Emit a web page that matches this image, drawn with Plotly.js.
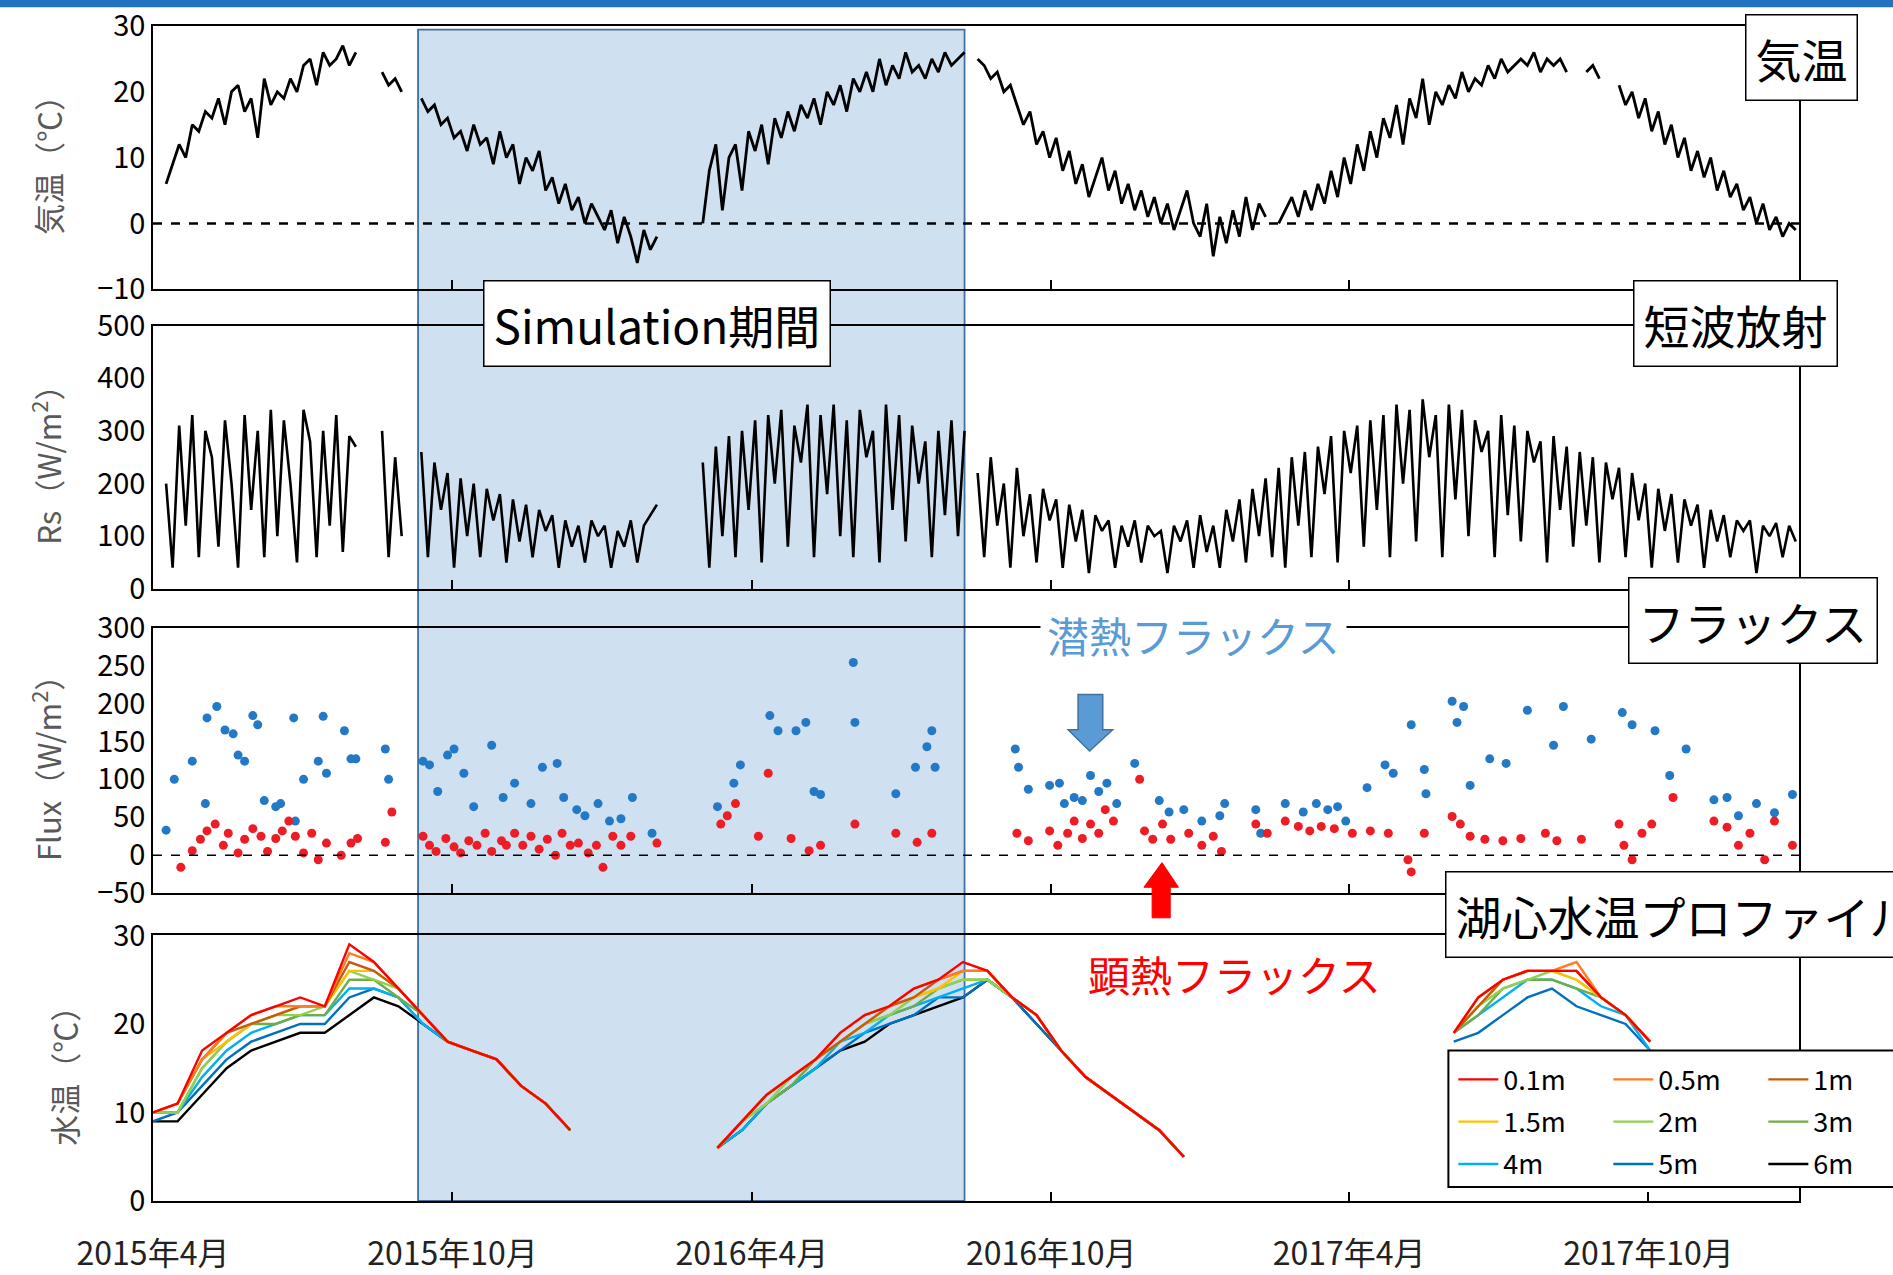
<!DOCTYPE html>
<html>
<head>
<meta charset="utf-8">
<script src="https://cdn.plot.ly/plotly-3.0.1.min.js"></script>
<style>body{margin:0;background:#fff}#chart{width:1893px;height:1275px}</style>
</head>
<body>
<div id="chart"></div>
<script>
// day 0 = 2015-04-01
const startDate = Date.UTC(2015, 3, 1);
const tickVals = ['2015-04-01', '2015-10-01', '2016-04-01', '2016-10-01', '2017-04-01', '2017-10-01'];
const tickText = ['2015年4月', '2015年10月', '2016年4月', '2016年10月', '2017年4月', '2017年10月'];

// air temperature and Rs, one value every 4 days
const stepDays = 4;
const airTemp = [null, null,
    6, 9, 12, 10, 15, 14, 17, 16, 19, 15, 20, 21, 17, 19, 13, 22, 18, 20, 19, 22, 20, 24, 25, 21, 26, 24, 25, 27, 24, 26,
    null, null, null, 23, 21, 22, 20, null, null,
    19, 17, 18, 15, 16, 13, 14, 11, 15, 12, 13, 9, 14, 10, 12, 6, 10, 8, 11, 5, 7, 3, 6, 2, 4, 0, 3, 1, -1, 2, -3, 1, -2, -6, -1, -4, -2,
    null, null, null, null, null, null,
    0, 8, 12, 2, 10, 12, 5, 14, 11, 15, 9, 16, 13, 17, 14, 18, 16, 19, 15, 20, 18, 21, 17, 22, 20, 23, 20, 25, 21, 24, 22, 26, 23, 24, 22, 25, 23, 26, 24, 25, 26,
    null,
    25, 24, 22, 23, 20, 21, 18, 15, 17, 12, 14, 10, 13, 8, 11, 6, 9, 4, 7, 10, 5, 8, 3, 6, 2, 5, 1, 4, 0, 3, -1, 2, 5, 0, -2, 3, -5, 1, -3, 2, -2, 4, -1, 3, 1,
    null,
    0, 2, 4, 1, 5, 2, 6, 3, 8, 4, 10, 6, 12, 8, 14, 10, 16, 13, 18, 12, 19, 16, 22, 15, 20, 18, 21, 19, 23, 20, 22, 21, 24, 22, 25, 23, 24, 25, 24, 26, 23, 25, 24, 25, 23,
    null, null, 23, 24, 22, null, null,
    21, 18, 20, 16, 19, 14, 17, 12, 15, 10, 13, 8, 11, 7, 10, 5, 8, 4, 6, 2, 4, 0, 3, -1, 1, -2, 0, -1];
const shortwave = [null, null,
    200, 40, 310, 120, 330, 60, 300, 250, 80, 320, 200, 40, 330, 150, 300, 60, 340, 100, 320, 200, 50, 340, 280, 60, 300, 120, 330, 70, 290, 270,
    null, null, null, 300, 60, 250, 100, null, null,
    260, 60, 240, 150, 220, 40, 210, 100, 200, 60, 190, 130, 180, 50, 170, 90, 160, 60, 150, 110, 140, 40, 130, 80, 120, 50, 130, 100, 120, 40, 110, 80, 130, 50, 120, 140, 160,
    null, null, null, null, null, null,
    240, 40, 270, 100, 290, 60, 300, 150, 320, 50, 330, 200, 340, 80, 310, 240, 350, 60, 330, 180, 350, 100, 320, 60, 340, 250, 300, 50, 350, 150, 330, 90, 310, 200, 280, 60, 300, 140, 320, 100, 300,
    null,
    220, 60, 250, 120, 200, 40, 230, 100, 180, 50, 190, 130, 170, 40, 160, 90, 150, 30, 140, 110, 130, 40, 120, 80, 130, 50, 120, 100, 110, 30, 120, 90, 130, 40, 140, 70,
    120, 40, 150, 90, 170, 50, 190, 100, 210, 60,
    230, 40, 250, 120, 260, 60, 270, 180, 290, 50, 300, 220, 310, 80, 320, 150, 330, 60, 350, 200, 340, 90, 360, 250, 330, 60, 350, 170, 340, 100, 320, 260, 300, 60, 330, 140, 310, 90, 300, 240, 280, 50, 290, 150, 270, 80,
    260, 120, 250, 50, 240, 170, 230, 60, 220, 130, 200, 40, 190, 110, 180, 50, 170, 120, 160, 40, 150, 90, 140, 60, 130, 110, 130, 30, 120, 100, 125, 60, 120, 90];

// latent heat flux (day, W/m2)
const latentDay = [8, 13, 24, 33, 39, 44, 49, 52, 56, 32, 61, 64, 68, 75, 78, 86, 92, 87, 104, 101, 106, 117, 121, 124, 142, 144,
    165, 169, 174, 180, 184, 190, 196, 207, 214, 221, 231, 238, 247, 251, 259, 264, 272, 279, 286, 293, 305,
    345, 355, 359, 377, 382, 393, 399, 404, 408, 428, 429, 454, 466, 473, 476, 478,
    527, 529, 535, 548, 554, 557, 563, 568, 573, 578, 583, 589, 600, 615, 621, 630, 641, 652, 655, 674, 677, 692, 703, 711, 718, 724, 729,
    742, 753, 758, 769, 777, 778, 794, 797, 801, 805, 817, 827, 840, 856, 862, 879, 898, 904, 918, 927, 937, 954, 962, 969, 980, 991, 1002];
const latentFlux = [33, 100, 124, 181, 196, 165, 160, 132, 124, 68, 184, 172, 72, 64, 68, 181, 100, 45, 183, 124, 108, 164, 127, 127, 140, 100,
    124, 119, 84, 132, 140, 108, 64, 145, 76, 95, 68, 116, 121, 76, 60, 52, 68, 45, 48, 76, 29,
    64, 95, 119, 184, 164, 164, 175, 84, 80, 254, 175, 81, 116, 143, 164, 116,
    140, 116, 87, 92, 95, 68, 76, 72, 105, 84, 95, 68, 121, 72, 57, 60, 45, 52, 68, 60, 29, 68, 57, 68, 60, 64, 45,
    89, 119, 108, 172, 113, 81, 203, 175, 196, 92, 127, 121, 191, 145, 196, 153, 188, 172, 164, 105, 140, 73, 76, 52, 68, 56, 80];
// sensible heat flux (day, W/m2)
const sensibleDay = [17, 24, 29, 33, 38, 43, 46, 52, 56, 61, 66, 70, 75, 79, 83, 87, 92, 97, 101, 106, 115, 121, 125, 142, 146,
    165, 169, 173, 179, 184, 188, 193, 198, 203, 207, 213, 216, 221, 226, 231, 236, 241, 246, 250, 255, 260, 266, 271, 275, 281, 286, 292, 308,
    347, 351, 356, 376, 370, 390, 401, 408, 429, 454, 467, 476,
    528, 535, 548, 553, 559, 563, 568, 573, 578, 582, 587, 603, 606, 611, 617, 622, 633, 641, 648, 653, 674, 681, 692, 700, 707, 714, 722,
    733, 744, 755, 767, 769, 777, 794, 799, 805, 814, 825, 836, 851, 858, 873, 896, 899, 904, 910, 916, 929, 954, 962, 969, 976, 985, 991, 1002];
const sensibleFlux = [-16, 6, 21, 32, 41, 13, 29, 3, 21, 35, 25, 5, 22, 32, 45, 25, 3, 29, -6, 16, 0, 16, 22, 17, 57,
    25, 13, 5, 22, 11, 3, 19, 13, 29, 5, 19, 13, 29, 13, 25, 8, 21, 0, 29, 13, 16, 3, 13, -16, 25, 13, 25, 16,
    41, 52, 68, 108, 25, 22, 6, 13, 41, 29, 17, 29,
    29, 19, 32, 13, 29, 45, 22, 41, 29, 60, 45, 100, 32, 21, 41, 21, 29, 13, 25, 5, 41, 29, 45, 38, 32, 38, 35,
    29, 32, 29, -6, -22, 29, 51, 41, 25, 21, 19, 22, 29, 19, 21, 41, 13, -6, 29, 41, 76, 45, 37, 13, 29, -6, 45, 13];

// lake centre water temperature, one value every 15 days from day 0
const wtStep = 15;
const wtNames = ['0.1m', '0.5m', '1m', '1.5m', '2m', '3m', '4m', '5m', '6m'];
const wtColors = ['#ff0000', '#ff7c20', '#c55a11', '#ffc000', '#92d050', '#70ad47', '#00b0f0', '#0070c0', '#000000'];
const wt01 = [10, 11, 17, 19, 21, 22, 23, 22, 29, 27, 24, 21, 18, 17, 16, 13, 11, 8, null, null, null, null, null,
    6, 9, 12, 14, 16, 19, 21, 22, 24, 25, 27, 26, 23, 21, 17, 14, 12, 10, 8, 5, null, null, null, null, null, null, null, null, null, null,
    19, 23, 25, 26, 26, 26, 23, 21, 18];
const wt05 = [10, 11, 16, 19, 21, 22, 22, 22, 28, 27, 24, 21, 18, 17, 16, 13, 11, 8, null, null, null, null, null,
    6, 9, 12, 14, 16, 19, 21, 22, 24, 25, 26, 26, 23, 21, 17, 14, 12, 10, 8, 5, null, null, null, null, null, null, null, null, null, null,
    19, 23, 25, 26, 26, 27, 23, 21, 18];
const wt1 = [10, 11, 16, 19, 20, 21, 22, 22, 27, 26, 24, 21, 18, 17, 16, 13, 11, 8, null, null, null, null, null,
    6, 9, 12, 14, 16, 18, 20, 22, 23, 25, 26, 26, 23, 21, 17, 14, 12, 10, 8, 5, null, null, null, null, null, null, null, null, null, null,
    19, 22, 25, 26, 26, 26, 23, 21, 18];
const wt15 = [10, 11, 16, 18, 20, 21, 22, 22, 26, 26, 24, 21, 18, 17, 16, 13, 11, 8, null, null, null, null, null,
    6, 9, 12, 14, 16, 18, 20, 22, 23, 24, 26, 26, 23, 21, 17, 14, 12, 10, 8, 5, null, null, null, null, null, null, null, null, null, null,
    19, 22, 25, 26, 26, 25, 23, 21, 18];
const wt2 = [10, 10, 15, 18, 20, 21, 21, 22, 26, 25, 24, 21, 18, 17, 16, 13, 11, 8, null, null, null, null, null,
    6, 9, 11, 14, 16, 18, 20, 21, 23, 24, 25, 25, 23, 21, 17, 14, 12, 10, 8, 5, null, null, null, null, null, null, null, null, null, null,
    19, 22, 24, 25, 26, 25, 23, 21, 18];
const wt3 = [10, 10, 15, 18, 20, 20, 21, 21, 25, 25, 23, 21, 18, 17, 16, 13, 11, 8, null, null, null, null, null,
    6, 9, 11, 13, 16, 18, 20, 21, 22, 24, 25, 25, 23, 21, 17, 14, 12, 10, 8, 5, null, null, null, null, null, null, null, null, null, null,
    19, 21, 24, 25, 25, 24, 23, 21, 18];
const wt4 = [10, 10, 14, 17, 19, 20, 21, 21, 24, 24, 23, 20, 18, 17, 16, 13, 11, 8, null, null, null, null, null,
    6, 8, 11, 13, 15, 18, 19, 21, 22, 23, 24, 25, 23, 21, 17, 14, 12, 10, 8, 5, null, null, null, null, null, null, null, null, null, null,
    19, 21, 23, 25, 25, 24, 22, 21, 17];
const wt5 = [9, 10, 13, 16, 18, 19, 20, 20, 23, 24, 23, 20, 18, 17, 16, 13, 11, 8, null, null, null, null, null,
    6, 8, 11, 13, 15, 17, 19, 20, 21, 23, 23, 25, 23, 20, 17, 14, 12, 10, 8, 5, null, null, null, null, null, null, null, null, null, null,
    18, 19, 21, 23, 24, 22, 21, 20, 17];
const wt6 = [9, 9, 12, 15, 17, 18, 19, 19, 21, 23, 22, 20, 18, 17, 16, 13, 11, 8, null, null, null, null, null,
    6, 8, 11, 13, 15, 17, 18, 20, 21, 22, 23, 25, 23, 20, 17, 14, 12, 10, 8, 5, null, null, null, null, null, null, null, null, null, null,
    null, null, null, null, null, null, null, null, null];
const wtSeries = [wt01, wt05, wt1, wt15, wt2, wt3, wt4, wt5, wt6];

const simStart = '2015-09-10';
const simEnd = '2016-08-09';

function dayToDate(d) {
    return new Date(startDate + d * 864e5).toISOString().slice(0, 10);
}

const font = 'Noto Sans CJK JP, Open Sans, sans-serif';
const dailyDates = airTemp.map((v, i) => dayToDate(i * stepDays));
const wtDates = wt01.map((v, i) => dayToDate(i * wtStep));

const traces = [
    {x: dailyDates, y: airTemp, type: 'scatter', mode: 'lines', line: {color: '#000', width: 2.8}, xaxis: 'x', yaxis: 'y', showlegend: false},
    {x: dailyDates, y: shortwave, type: 'scatter', mode: 'lines', line: {color: '#000', width: 2.6}, xaxis: 'x2', yaxis: 'y2', showlegend: false},
    {x: latentDay.map(dayToDate), y: latentFlux, type: 'scatter', mode: 'markers', marker: {color: '#2479c6', size: 9}, xaxis: 'x3', yaxis: 'y3', showlegend: false},
    {x: sensibleDay.map(dayToDate), y: sensibleFlux, type: 'scatter', mode: 'markers', marker: {color: '#ee1c25', size: 9}, xaxis: 'x3', yaxis: 'y3', showlegend: false}
];
const legendIds = ['legend', 'legend', 'legend', 'legend2', 'legend2', 'legend2', 'legend3', 'legend3', 'legend3'];
for (let k = wtSeries.length - 1; k >= 0; k--) {
    traces.push({
        x: wtDates, y: wtSeries[k], name: wtNames[k], type: 'scatter', mode: 'lines',
        line: {color: wtColors[k], width: 2.4}, xaxis: 'x4', yaxis: 'y4', legendrank: k + 1, legend: legendIds[k]
    });
}

function xAxis(anchor, labels) {
    return {
        type: 'date', range: ['2015-04-01', '2018-01-01'], anchor: anchor,
        tickvals: tickVals, ticktext: tickText, showticklabels: labels,
        ticks: 'inside', ticklen: 9, tickcolor: '#000', tickwidth: 1.5,
        showline: true, mirror: true, linecolor: '#000', linewidth: 1.5,
        showgrid: false, zeroline: false, ticklabelstandoff: 24,
        tickfont: {family: font, size: 32, color: '#222'}
    };
}
function yAxis(anchor, domain, range, dtick, title) {
    return {
        anchor: anchor, domain: domain, range: range, dtick: dtick,
        showline: true, mirror: true, linecolor: '#000', linewidth: 1.5,
        showgrid: false, zeroline: false, ticks: '',
        tickfont: {family: font, size: 29, color: '#000'},
        title: {text: title, font: {family: font, size: 31, color: '#595959'}, standoff: 26}
    };
}
function legendRow(y) {
    return {
        orientation: 'h', x: 0.79, y: y, xanchor: 'left', yanchor: 'top',
        entrywidth: 100, entrywidthmode: 'pixels', borderwidth: 0, bgcolor: 'rgba(0,0,0,0)',
        font: {family: font, size: 27, color: '#000'}, itemwidth: 40
    };
}

function box(text, x, y, anchor) {
    return {
        text: text, xref: 'paper', yref: 'paper', x: x, y: y, xanchor: anchor, yanchor: 'middle',
        showarrow: false, bgcolor: '#fff', bordercolor: '#000', borderwidth: 1.5, borderpad: 9,
        font: {family: font, size: 46, color: '#000'}
    };
}

const layout = {
    width: 1893, height: 1275,
    margin: {l: 153, r: 94, t: 26, b: 74, autoexpand: false},
    paper_bgcolor: '#fff', plot_bgcolor: 'rgba(0,0,0,0)',
    xaxis: xAxis('y', false),
    xaxis2: xAxis('y2', false),
    xaxis3: xAxis('y3', false),
    xaxis4: xAxis('y4', true),
    yaxis: yAxis('x', [0.776, 1], [-10, 30], 10, '気温（℃）'),
    yaxis2: yAxis('x2', [0.521, 0.745], [0, 500], 100, 'Rs（W/m<sup>2</sup>）'),
    yaxis3: yAxis('x3', [0.262, 0.488], [-50, 300], 50, 'Flux（W/m<sup>2</sup>）'),
    yaxis4: yAxis('x4', [0, 0.226], [0, 30], 10, '水温（℃）'),
    showlegend: true,
    legend: legendRow(0.124),
    legend2: legendRow(0.088),
    legend3: legendRow(0.052),
    shapes: [
        {type: 'rect', xref: 'paper', yref: 'paper', x0: -0.1, x1: 1.1, y0: 1.016, y1: 1.03, fillcolor: '#1f73c1', line: {width: 0}},
        {type: 'rect', xref: 'x', yref: 'paper', x0: simStart, x1: simEnd, y0: 0, y1: 0.997, layer: 'below',
            fillcolor: '#cfe0f1', line: {color: '#41719c', width: 1.8}},
        {type: 'line', xref: 'paper', yref: 'y', x0: 0, x1: 1, y0: 0, y1: 0, line: {color: '#000', width: 2.5, dash: 'dash'}},
        {type: 'line', xref: 'paper', yref: 'y3', x0: 0, x1: 1, y0: 0, y1: 0, line: {color: '#000', width: 1.5, dash: 'dash'}},
        {type: 'rect', xref: 'paper', yref: 'paper', x0: 0.787, x1: 1.06, y0: 0.012, y1: 0.128,
            fillcolor: '#fff', line: {color: '#000', width: 2}},
        {type: 'path', xref: 'paper', yref: 'paper', fillcolor: '#5b9bd5', line: {color: '#41719c', width: 1.5},
            path: 'M0.562,0.431 L0.577,0.431 L0.577,0.401 L0.583,0.401 L0.569,0.383 L0.556,0.401 L0.562,0.401 Z'},
        {type: 'path', xref: 'paper', yref: 'paper', fillcolor: '#ff0000', line: {color: '#ff0000', width: 1},
            path: 'M0.607,0.241 L0.618,0.241 L0.618,0.267 L0.623,0.267 L0.613,0.288 L0.602,0.267 L0.607,0.267 Z'}
    ],
    annotations: [
        box('気温', 0.967, 0.973, 'left'),
        box('短波放射', 0.899, 0.747, 'left'),
        box('フラックス', 0.896, 0.494, 'left'),
        box('湖心水温プロファイル', 0.785, 0.244, 'left'),
        box('Simulation期間', 0.306, 0.747, 'center'),
        {text: '潜熱フラックス', xref: 'paper', yref: 'paper', x: 0.632, y: 0.482, showarrow: false,
            bgcolor: '#fff', borderpad: 6, font: {family: font, size: 42, color: '#5b9bd5'}},
        {text: '顕熱フラックス', xref: 'paper', yref: 'paper', x: 0.657, y: 0.166, showarrow: false,
            font: {family: font, size: 42, color: '#ff0000'}}
    ]
};

Plotly.newPlot('chart', traces, layout, {displayModeBar: false});
</script>
</body>
</html>
